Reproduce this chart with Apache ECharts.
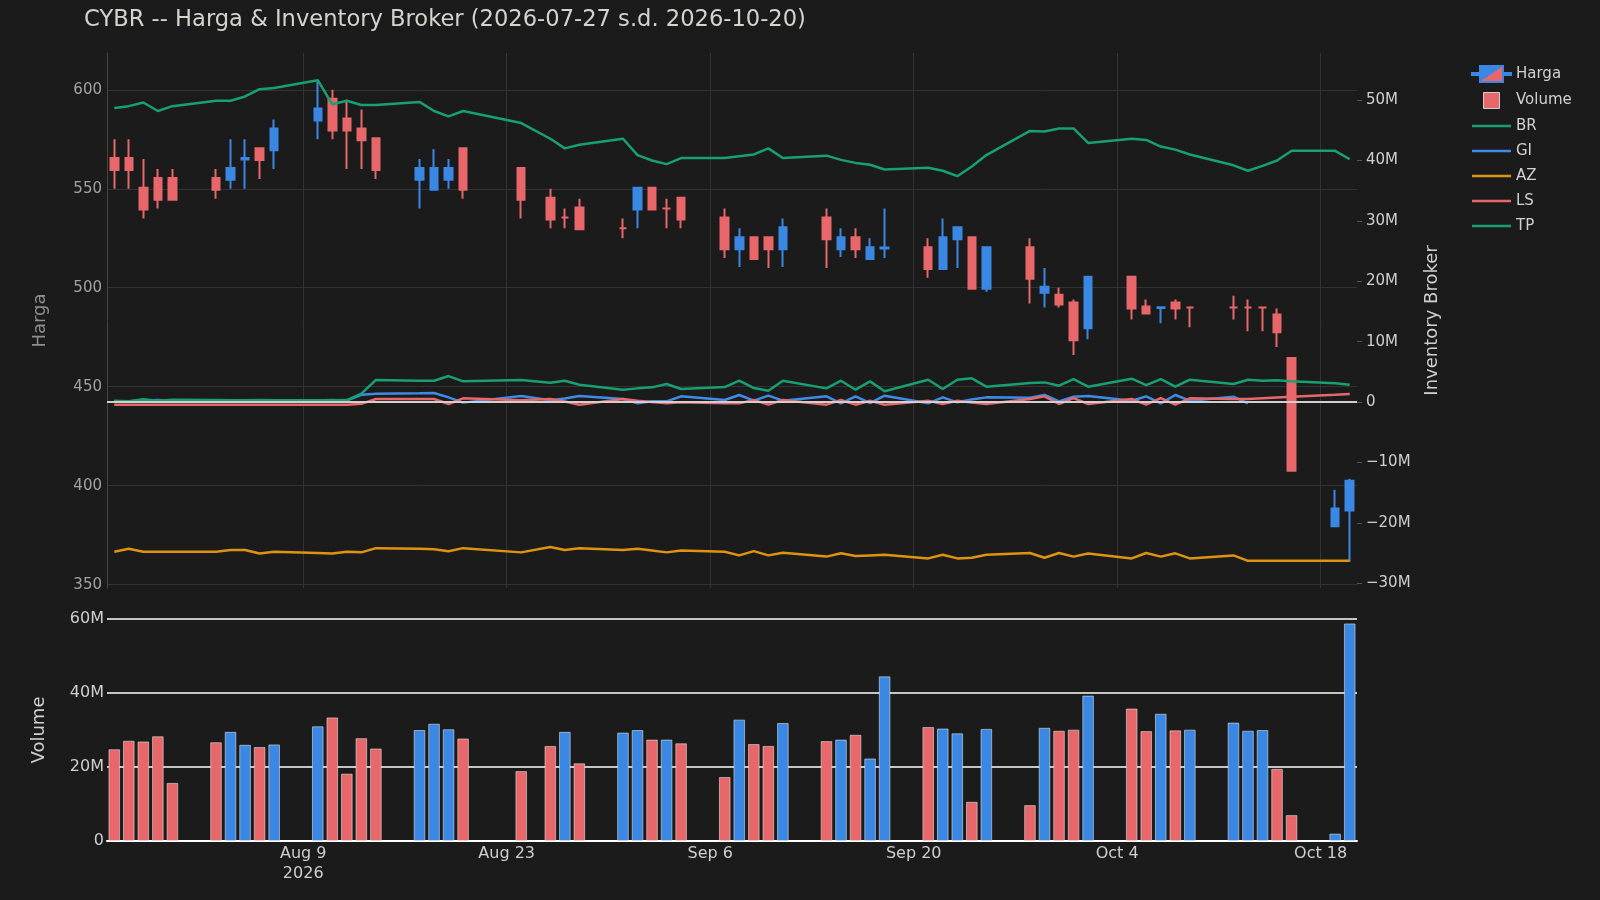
<!DOCTYPE html>
<html><head><meta charset="utf-8">
<script src="https://cdn.jsdelivr.net/npm/echarts@6/dist/echarts.min.js"></script>
<style>html,body{margin:0;padding:0;background:#1b1b1b}#c{width:1600px;height:900px}</style>
</head><body><div id="c"></div>
<script>
// ---- data (trading days) ----
const dates = ['2026-07-27','2026-07-28','2026-07-29','2026-07-30','2026-07-31',
'2026-08-03','2026-08-04','2026-08-05','2026-08-06','2026-08-07',
'2026-08-10','2026-08-11','2026-08-12','2026-08-13','2026-08-14',
'2026-08-17','2026-08-18','2026-08-19','2026-08-20',
'2026-08-24','2026-08-26','2026-08-27','2026-08-28',
'2026-08-31','2026-09-01','2026-09-02','2026-09-03','2026-09-04',
'2026-09-07','2026-09-08','2026-09-09','2026-09-10','2026-09-11',
'2026-09-14','2026-09-15','2026-09-16','2026-09-17','2026-09-18',
'2026-09-21','2026-09-22','2026-09-23','2026-09-24','2026-09-25',
'2026-09-28','2026-09-29','2026-09-30','2026-10-01','2026-10-02',
'2026-10-05','2026-10-06','2026-10-07','2026-10-08','2026-10-09',
'2026-10-12','2026-10-13','2026-10-14','2026-10-15','2026-10-16',
'2026-10-19','2026-10-20'];
const openP = [565.5,565.5,550.5,555.5,555.5, 555.5,554.5,564.8,570.5,569.5, 584.5,595.5,585.5,580.5,575.5,
554.5,549.5,554.5,570.5, 560.5,545.5,535.5,540.5, 530,539.5,550.5,540,545.5,
535.5,519.5,525.5,525.5,519.5, 535.5,519.5,525.5,514.5,519.8, 520.5,509.5,524.5,525.5,499.5,
520.5,497.5,496.5,492.5,479.5, 505.5,490.5,489.8,492.5,490, 490,490,490,486.5,464.5, 379.5,387.5];
const highP = [575,575,565,560,560, 560,575,575,570.5,585, 605,600,595,590,575.5,
565,570,565,570.5, 560.5,550,540,545, 535,550.5,550.5,545,545.5,
540,530,525.5,525.5,535, 540,530,530,525,540, 525,535,530.5,525.5,520.5,
525,510,500,494,505.5, 505.5,494,490.2,494,490, 496,494,490,489.5,464.5, 398,403.5];
const lowP = [550,550,535,540,544.5, 545,550,550,555,560, 575,575,560,560,555,
540,549.5,550,545, 535,530,530,529.5, 525,530,539.5,530,530,
515,510.5,514.5,510,510.5, 510,515.5,515,514.5,515, 505,509.5,510,499.5,498,
492,490,490,466,474, 484,487,482,484,480, 484,478,478,470,407.5, 379.5,361.5];
const closeP = [559.5,559.5,539.5,544.5,544.5, 549.5,560.5,565.6,564.5,580.5, 590.5,579.5,579.5,574.5,559.5,
560.5,560.5,560.5,549.5, 544.5,534.5,535.5,529.5, 530,550.5,539.5,540,534.5,
519.5,525.5,514.5,519.5,530.5, 524.5,525.5,519.5,520.5,520.3, 509.5,525.5,530.5,499.5,520.5,
504.5,500.5,491.5,473.5,505.5, 489.5,487,490.2,489.5,490, 490,490,490,477.5,407.5, 388.5,402.5];
const volumeM = [24.8,27.1,26.9,28.3,15.7, 26.7,29.5,26.0,25.4,26.1, 31.0,33.4,18.2,27.8,25.0,
30.0,31.7,30.2,27.7, 18.9,25.7,29.5,21.0, 29.3,30.0,27.4,27.4,26.4,
17.3,32.8,26.2,25.7,31.9, 27.0,27.4,28.7,22.3,44.5, 30.8,30.4,29.1,10.6,30.3,
9.7,30.6,29.8,30.1,39.3, 35.8,29.7,34.4,29.9,30.1, 32.0,29.8,30.0,19.5,7.0, 2.0,58.8];
const brM = [48.7,49.0,49.6,48.2,49.0, 49.9,49.9,50.6,51.8,52.0, 53.3,49.3,49.9,49.2,49.2,
49.7,48.2,47.3,48.2, 46.2,43.6,42.0,42.6, 43.6,40.9,40.0,39.4,40.4,
40.4,40.7,41.0,42.0,40.4, 40.8,40.1,39.6,39.3,38.5, 38.8,38.3,37.4,39.0,40.9,
44.9,44.8,45.3,45.3,42.9, 43.6,43.4,42.3,41.8,41.0, 39.2,38.3,39.1,40.0,41.6, 41.6,40.2];
const giM = [0.11,0.11,0.22,0.33,0.22, 0.2,0.2,0.22,0.2,0.2, 0.25,0.33,0.22,1.2,1.35,
1.45,1.49,0.77,-0.1, 0.99,0.3,0.6,0.99, 0.5,-0.22,0.11,0.11,0.94,
0.33,1.16,0.22,1.05,0.22, 0.94,-0.22,0.94,-0.17,1.05, -0.22,0.77,-0.05,0.4,0.77,
0.7,1.16,0.11,0.88,0.99, 0.22,0.94,-0.22,1.16,0.22, 0.88,-0.22,null,null,null, null,null];
const azM = [-24.8,-24.3,-24.8,-24.8,-24.8, -24.8,-24.5,-24.5,-25.1,-24.8, -25.0,-25.1,-24.8,-24.9,-24.2,
-24.3,-24.4,-24.7,-24.2, -24.9,-24.0,-24.5,-24.2, -24.5,-24.3,-24.6,-24.9,-24.6,
-24.8,-25.4,-24.7,-25.4,-24.95, -25.6,-25.06,-25.5,-25.4,-25.3, -25.9,-25.3,-25.9,-25.8,-25.3,
-25.0,-25.8,-25.0,-25.6,-25.1, -25.9,-25.0,-25.6,-25.06,-25.9, -25.4,-26.3,-26.3,-26.3,-26.3, -26.3,-26.3];
const lsM = [-0.44,-0.44,-0.44,-0.44,-0.44, -0.44,-0.44,-0.44,-0.44,-0.44, -0.44,-0.44,-0.44,-0.3,0.5,
0.5,0.5,-0.33,0.61, 0.3,0.5,0.1,-0.44, 0.5,0.2,0.0,-0.22,-0.05,
-0.22,-0.22,0.33,-0.44,0.33, -0.44,0.33,-0.44,0.22,-0.44, 0.22,-0.33,0.22,-0.1,-0.33,
0.5,0.94,-0.33,0.66,-0.33, 0.5,-0.44,0.66,-0.44,0.61, 0.5,0.5,0.62,0.74,0.86, 1.2,1.32];
const tpM = [0.22,0.11,0.44,0.22,0.39, 0.33,0.3,0.3,0.33,0.28, 0.28,0.3,0.33,1.4,3.64,
3.53,3.53,4.3,3.42, 3.64,3.2,3.53,2.87, 2.04,2.26,2.43,2.98,2.15,
2.48,3.53,2.32,1.87,3.53, 2.26,3.53,2.04,3.42,1.77, 3.69,2.15,3.69,3.92,2.54,
3.14,3.25,2.7,3.8,2.54, 3.86,2.81,3.8,2.54,3.69, 2.98,3.69,3.53,3.59,3.42, 3.09,2.87];
const tickDates = ['2026-08-09','2026-08-23','2026-09-06','2026-09-20','2026-10-04','2026-10-18'];
const tickLabels = ['Aug 9\n2026','Aug 23','Sep 6','Sep 20','Oct 4','Oct 18'];
const priceTicks = [350,400,450,500,550,600];

// ---- styling ----
const BLUE = '#3a87e4', RED = '#e8676b', GREEN = '#18a070', ORANGE = '#de9410', GIBLUE = '#3d8de8';
const FONT = 'DejaVu Sans';
const LINE_ICON = 'path://M0,0L39,0L39,2.5L0,2.5Z';

// calendar categories
const cal = [];
for (let t = Date.UTC(2026,6,27); t <= Date.UTC(2026,9,20); t += 86400000) cal.push(new Date(t).toISOString().slice(0,10));
const idx = {}; dates.forEach((s,i)=>{ idx[s]=i; });
const atCal = f => cal.map(c => (idx[c]===undefined ? '-' : f(idx[c])));

const candleData = atCal(i => {
  const col = closeP[i] > openP[i] ? BLUE : RED;
  return {value:[openP[i], closeP[i], lowP[i], highP[i]], itemStyle:{color:col,color0:col,borderColor:col,borderColor0:col}};
});
const volData = atCal(i => ({value: volumeM[i]*1e6, itemStyle:{color: closeP[i] >= openP[i] ? BLUE : RED}}));
const lineData = arr => atCal(i => (arr[i]==null ? '-' : arr[i]*1e6));

function lineSeries(name, arr, color, extra) {
  return Object.assign({name, type:'line', xAxisIndex:0, yAxisIndex:1, data: lineData(arr), connectNulls:true,
    symbol:'none', showSymbol:false, z:3, lineStyle:{color, width:2.5}, itemStyle:{color}}, extra||{});
}

const option = {
  animation:false,
  backgroundColor:'#1b1b1b',
  textStyle:{fontFamily:FONT},
  title:{text:'CYBR -- Harga & Inventory Broker (2026-07-27 s.d. 2026-10-20)', left:79, top:4,
    textStyle:{color:'#d4d4cc', fontSize:22.6, fontWeight:'normal', fontFamily:FONT}},
  legend:{orient:'vertical', left:1466, top:60, padding:5, itemWidth:39, itemHeight:16, itemGap:9.0,
    textStyle:{color:'#d0d0d0', fontSize:15, lineHeight:16, fontFamily:FONT},
    data:[
      {name:'Harga', icon:'path://M0,7L8,7L8,9L0,9ZM8,0L31,0L31,16L8,16ZM31,7L39,7L39,9L31,9Z',
        itemStyle:{color:{type:'linear',x:0.35,y:0,x2:0.65,y2:1,colorStops:[{offset:0,color:BLUE},{offset:0.5,color:BLUE},{offset:0.5,color:RED},{offset:1,color:RED}]}}},
      {name:'Volume', icon:'path://M0,0L10,0L10,10L0,10Z', itemStyle:{color:RED, borderColor:'#cfcfcf', borderWidth:1}},
      {name:'BR', icon:LINE_ICON, itemStyle:{color:GREEN}},
      {name:'GI', icon:LINE_ICON, itemStyle:{color:GIBLUE}},
      {name:'AZ', icon:LINE_ICON, itemStyle:{color:ORANGE}},
      {name:'LS', icon:LINE_ICON, itemStyle:{color:RED}},
      {name:'TP', icon:LINE_ICON, itemStyle:{color:GREEN}}]},
  grid:[{left:107, right:243, top:53, height:535}, {left:107, right:243, top:619, height:222}],
  xAxis:[
    {type:'category', gridIndex:0, data:cal, boundaryGap:true,
      axisLabel:{show:false}, axisTick:{show:false},
      axisLine:{show:true, lineStyle:{color:'#444', width:1}},
      splitLine:{show:true, alignWithLabel:true, interval:(i,v)=>tickDates.includes(v), lineStyle:{color:'#333', width:1}}},
    {type:'category', gridIndex:1, data:cal, boundaryGap:true,
      axisTick:{show:false},
      axisLine:{show:true, lineStyle:{color:'#ffffff', width:2}},
      splitLine:{show:false},
      axisLabel:{interval:(i,v)=>tickDates.includes(v), formatter:v=>tickLabels[tickDates.indexOf(v)]||'',
        color:'#cfcfcf', fontSize:16, lineHeight:20, margin:3, fontFamily:FONT}}
  ],
  yAxis:[
    {type:'value', gridIndex:0, position:'left', min:348.3, max:618.6, splitNumber:5,
      name:'Harga', nameLocation:'middle', nameGap:58, nameTextStyle:{color:'#8e8e8e', fontSize:18, fontFamily:FONT},
      axisLine:{show:true, lineStyle:{color:'#444'}}, axisTick:{show:false},
      axisLabel:{color:'#a2a2a2', fontSize:15, margin:5, showMinLabel:false, showMaxLabel:false, fontFamily:FONT,
        formatter:v=>priceTicks.includes(Math.round(v))?String(Math.round(v)):''},
      splitLine:{show:true, showMinLine:false, showMaxLine:false, lineStyle:{color:'#333', width:1}}},
    {type:'value', gridIndex:0, position:'right', min:-30.8e6, max:57.8e6, splitNumber:9,
      name:'Inventory Broker', nameLocation:'middle', nameGap:66, nameTextStyle:{color:'#cfcfcf', fontSize:18, fontFamily:FONT},
      axisLine:{show:false}, axisTick:{show:true, length:5, lineStyle:{color:'#555'}},
      axisLabel:{color:'#cfcfcf', fontSize:15, margin:9, showMinLabel:false, showMaxLabel:false, fontFamily:FONT,
        formatter:v=>{ const m=Math.round(v/1e6); return m===0?'0':(m<0?'\u2212':'')+Math.abs(m)+'M'; }},
      splitLine:{show:false}},
    {type:'value', gridIndex:1, min:0, max:60e6, interval:20e6,
      name:'Volume', nameLocation:'middle', nameGap:59, nameTextStyle:{color:'#cfcfcf', fontSize:18, fontFamily:FONT},
      axisLine:{show:false}, axisTick:{show:false},
      axisLabel:{color:'#cfcfcf', fontSize:16, margin:3, fontFamily:FONT, formatter:v=>v===0?'0':(v/1e6)+'M'},
      splitLine:{show:true, lineStyle:{color:'#ffffff', width:1.5}}}
  ],
  series:[
    {name:'Harga', type:'candlestick', xAxisIndex:0, yAxisIndex:0, data:candleData, barWidth:8, z:2,
      itemStyle:{color:BLUE, color0:RED, borderColor:BLUE, borderColor0:RED, borderWidth:2}},
    {name:'Volume', type:'bar', xAxisIndex:1, yAxisIndex:2, data:volData, barWidth:'80%', z:2,
      itemStyle:{color:RED, borderColor:'rgba(235,235,235,0.55)', borderWidth:1}},
    lineSeries('BR', brM, GREEN, {markLine:{silent:true, symbol:'none', animation:false, label:{show:false},
      lineStyle:{color:'#d0d0d0', width:2, type:'solid'}, data:[{yAxis:0}]}}),
    lineSeries('GI', giM, GIBLUE),
    lineSeries('AZ', azM, ORANGE),
    lineSeries('LS', lsM, RED),
    lineSeries('TP', tpM, GREEN)
  ]
};
const chart = echarts.init(document.getElementById('c'), null, {renderer:'canvas'});
chart.setOption(option);
</script></body></html>
